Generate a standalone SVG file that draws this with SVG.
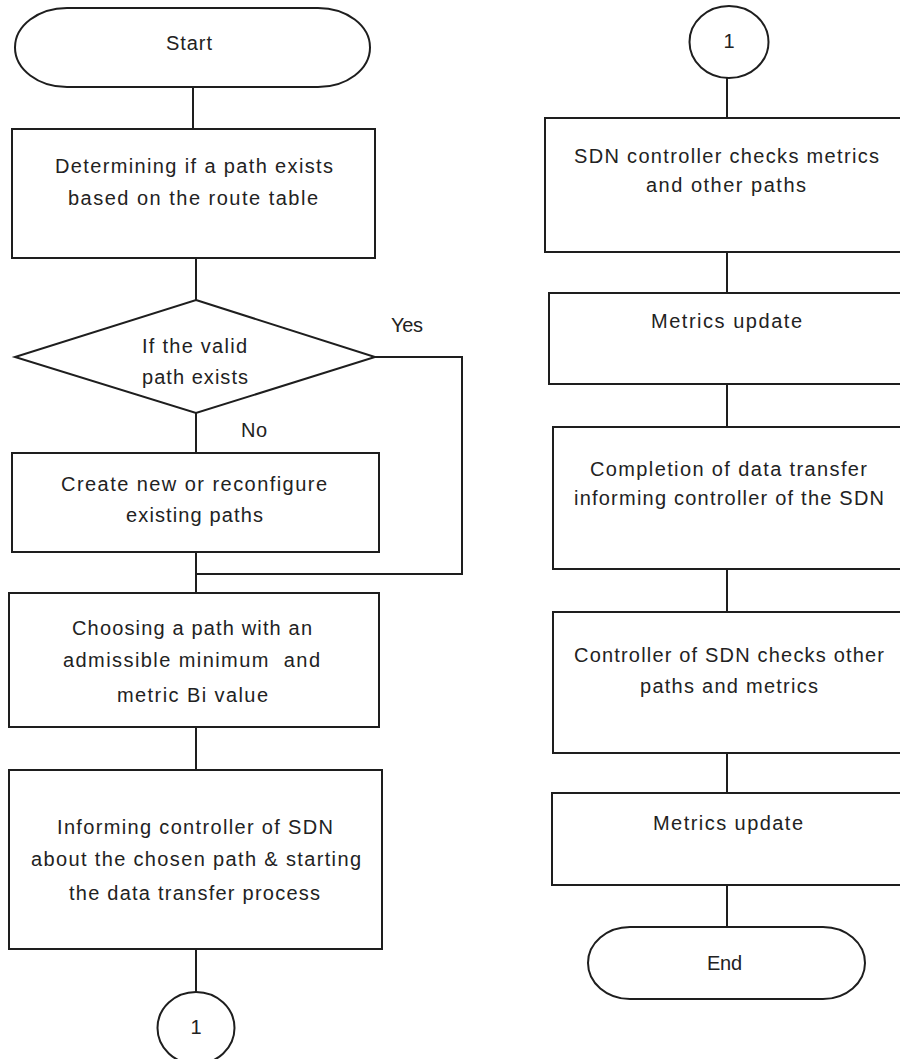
<svg xmlns="http://www.w3.org/2000/svg" width="900" height="1059" viewBox="0 0 900 1059">
<style>
.s{fill:#fff;stroke:#1e1e1e;stroke-width:2}
.c{fill:none;stroke:#1e1e1e;stroke-width:2}
text{font-family:"Liberation Sans",Arial,sans-serif;font-size:20px;fill:#222}
.m{text-anchor:middle}
</style>
<rect width="900" height="1059" fill="#fff"/>
<g id="connectors">
<path class="c" d="M193 87V129"/>
<path class="c" d="M196 258V300"/>
<path class="c" d="M196 413V453"/>
<path class="c" d="M196 552V593"/>
<path class="c" d="M375 357H462V574H196"/>
<path class="c" d="M196 727V770"/>
<path class="c" d="M196 949V992"/>
<path class="c" d="M727 78V118"/>
<path class="c" d="M727 252V293"/>
<path class="c" d="M727 384V427"/>
<path class="c" d="M727 569V612"/>
<path class="c" d="M727 753V793"/>
<path class="c" d="M727 885V927"/>
</g>
<g id="start">
<rect class="s" x="15" y="8" width="355" height="79" rx="52" ry="39.5"/>
<text x="166" y="50" textLength="46" lengthAdjust="spacing">Start</text>
</g>
<g id="determine">
<rect class="s" x="12" y="129" width="363" height="129"/>
<text x="55" y="173" textLength="278" lengthAdjust="spacing">Determining if a path exists</text>
<text x="68" y="205" textLength="250" lengthAdjust="spacing">based on the route table</text>
</g>
<g id="decision">
<polygon class="s" points="196,300 375,357 196,413 15,357"/>
<text x="142" y="353" textLength="105" lengthAdjust="spacing">If the valid</text>
<text x="142" y="384" textLength="106" lengthAdjust="spacing">path exists</text>
</g>
<g id="label-yes"><text x="391" y="332" textLength="32" lengthAdjust="spacing">Yes</text></g>
<g id="label-no"><text x="241" y="437" textLength="26" lengthAdjust="spacing">No</text></g>
<g id="create">
<rect class="s" x="12" y="453" width="367" height="99"/>
<text x="61" y="491" textLength="266" lengthAdjust="spacing">Create new or reconfigure</text>
<text x="126" y="522" textLength="137" lengthAdjust="spacing">existing paths</text>
</g>
<g id="choose">
<rect class="s" x="9" y="593" width="370" height="134"/>
<text x="72" y="635" textLength="240" lengthAdjust="spacing">Choosing a path with an</text>
<text x="63" y="667" textLength="257" lengthAdjust="spacing">admissible minimum&#160; and</text>
<text x="117" y="702" textLength="151" lengthAdjust="spacing">metric Bi value</text>
</g>
<g id="inform">
<rect class="s" x="9" y="770" width="373" height="179"/>
<text x="57" y="834" textLength="276" lengthAdjust="spacing">Informing controller of SDN</text>
<text x="31" y="866" textLength="330" lengthAdjust="spacing">about the chosen path &amp; starting</text>
<text x="69" y="900" textLength="251" lengthAdjust="spacing">the data transfer process</text>
</g>
<g id="connector-out">
<ellipse class="s" cx="196" cy="1028" rx="38.5" ry="36"/>
<text class="m" x="196" y="1034">1</text>
</g>
<g id="connector-in">
<ellipse class="s" cx="729" cy="42" rx="39.5" ry="36"/>
<text class="m" x="729" y="48">1</text>
</g>
<g id="sdn-check">
<rect class="s" x="545" y="118" width="370" height="134"/>
<text x="574" y="163" textLength="305" lengthAdjust="spacing">SDN controller checks metrics</text>
<text x="646" y="192" textLength="160" lengthAdjust="spacing">and other paths</text>
</g>
<g id="update1">
<rect class="s" x="549" y="293" width="366" height="91"/>
<text x="651" y="328" textLength="151" lengthAdjust="spacing">Metrics update</text>
</g>
<g id="completion">
<rect class="s" x="553" y="427" width="362" height="142"/>
<text x="590" y="476" textLength="277" lengthAdjust="spacing">Completion of data transfer</text>
<text x="574" y="505" textLength="310" lengthAdjust="spacing">informing controller of the SDN</text>
</g>
<g id="controller-check">
<rect class="s" x="553" y="612" width="362" height="141"/>
<text x="574" y="662" textLength="310" lengthAdjust="spacing">Controller of SDN checks other</text>
<text x="640" y="693" textLength="178" lengthAdjust="spacing">paths and metrics</text>
</g>
<g id="update2">
<rect class="s" x="552" y="793" width="363" height="92"/>
<text x="653" y="830" textLength="150" lengthAdjust="spacing">Metrics update</text>
</g>
<g id="end">
<rect class="s" x="588" y="927" width="277" height="72" rx="42" ry="36"/>
<text x="707" y="970" textLength="35" lengthAdjust="spacing">End</text>
</g>
</svg>
